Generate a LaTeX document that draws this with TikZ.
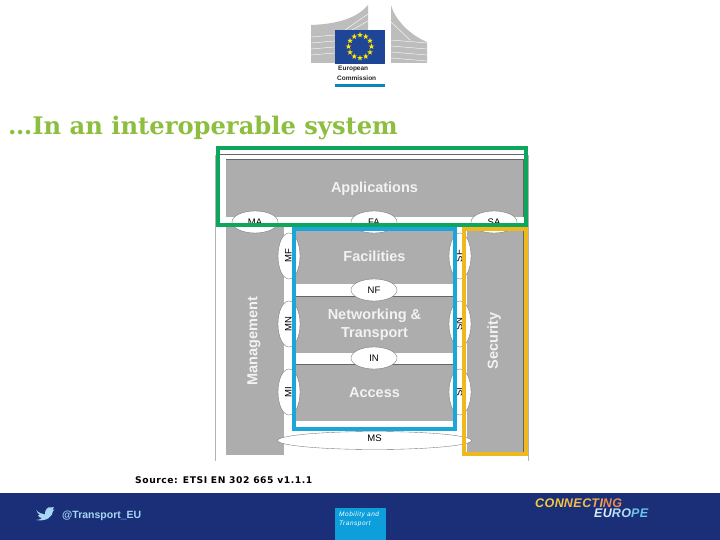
\documentclass[tikz,border=0pt]{standalone}
\usepackage{fontspec}
\setmainfont{Liberation Sans}
\newfontfamily\serifbold{DejaVu Serif}
\newfontfamily\versans{DejaVu Sans}
\usetikzlibrary{shapes.geometric}
\definecolor{bgray}{HTML}{ADADAD}
\definecolor{navy}{HTML}{1A2F78}
\definecolor{ecblue}{HTML}{0C9FDC}
\definecolor{fgreen}{HTML}{0EA65C}
\definecolor{fblue}{HTML}{1BA6DB}
\definecolor{fyellow}{HTML}{EDB91F}
\definecolor{titlegreen}{HTML}{8DBE3F}
\definecolor{flagblue}{HTML}{1F4596}
\definecolor{lightb}{HTML}{A6D8F4}
\definecolor{logogray}{HTML}{BDBDBD}
\tikzset{
  block/.style={fill=bgray,draw=none},
  blocklabel/.style={font=\bfseries\fontsize{14.5}{18}\selectfont,text=white!95!black,align=center,inner sep=0pt},
  iface/.style={ellipse,draw=black!55,line width=0.35pt,fill=white,inner sep=0pt,font=\fontsize{9.5}{10}\selectfont,text=black},
  ifaceh/.style={iface,minimum width=46pt,minimum height=22pt},
  ifacev/.style={iface,minimum width=22pt,minimum height=46pt},
  frame/.style={line width=4pt,line join=miter},
  hairline/.style={draw=black!30,line width=0.5pt},
  stripe/.style={draw=white,line width=0.4pt},
}
\newcommand{\ecstar}{(-90:3)--(-54:1.2)--(-18:3)--(18:1.2)--(54:3)--(90:1.2)--(126:3)--(162:1.2)--(198:3)--(234:1.2)--cycle}
\begin{document}
\begin{tikzpicture}[x=1pt,y=-1pt]
\useasboundingbox (0,0) rectangle (720,540);
\fill[white] (0,0) rectangle (720,540);

% logo buildings
\fill[logogray] (311,25) .. controls (340,24) and (358,17) .. (368,5) -- (368,30) -- (335,30) -- (335,63) -- (311,63) -- cycle;
\foreach \y in {36,42,48,54} \draw[stripe] (311,\y+1) -- (335,\y-1);
\draw[stripe] (345,30) -- (368,14);
\draw[stripe] (352,30) -- (368,21);
\fill[logogray] (391,5) .. controls (395,20) and (410,35) .. (427,42) -- (427,63) -- (391,63) -- cycle;
\foreach \y in {40,46,52,58} \draw[stripe] (391,\y) -- (427,\y+3);
\draw[stripe] (391,22) -- (410,40);
% logo flag
\fill[flagblue] (335,30) rectangle (385,64);
\foreach \a in {0,30,...,330} \fill[yellow!90!orange,shift={(\a:11.5)},shift={(360,46.5)}] \ecstar;
\node[anchor=west,inner sep=0pt,font=\bfseries\fontsize{6.5}{7}\selectfont,text=black!85] (eu1) at (338,69) {European};
\node[anchor=west,inner sep=0pt,font=\bfseries\fontsize{6.5}{7}\selectfont,text=black!85] (eu2) at (337,78) {Commission};
\fill[ecblue!85!black] (335,84) rectangle (385,87);

% title
\node[anchor=base west,inner sep=0pt,font=\serifbold\bfseries\fontsize{24.2}{26}\selectfont,text=titlegreen] (title) at (8,135) {…In an interoperable system};

% diagram frame
\draw[hairline] (215,155) -- (215,461);
\draw[hairline] (528,155) -- (528,461);
\draw[draw=black!60,line width=0.5pt] (218,154) -- (526,154);

% blocks
\fill[block] (226,159) rectangle (523,217);
\fill[block] (226,227) rectangle (284,455);
\fill[block] (295,230) rectangle (453,284);
\fill[block] (295,296) rectangle (453,353);
\fill[block] (295,364) rectangle (453,421);
\fill[block] (467,227) rectangle (523,453);
\draw[draw=black!60,line width=0.5pt] (226,159) -- (523,159);
\draw[draw=black!60,line width=0.5pt] (523,159) -- (523,217);
\draw[draw=black!60,line width=0.5pt] (523,227) -- (523,453);
\draw[draw=black!60,line width=0.5pt] (295,296) -- (453,296);
\draw[draw=black!60,line width=0.5pt] (295,364) -- (453,364);

\node[blocklabel] (apps) at (374.5,188.5) {Applications};
\node[blocklabel] (fac) at (374.5,256) {Facilities};
\node[blocklabel] (net) at (374.5,325) {Networking \&\\Transport};
\node[blocklabel] (acc) at (374.5,392.5) {Access};
\node[blocklabel,rotate=90] (mgmt) at (254,341) {Management};
\node[blocklabel,rotate=90] (sec) at (494,341) {Security};

% interfaces
\node[ifaceh] (MA) at (255,222) {MA};
\node[ifaceh] (FA) at (374,222) {FA};
\node[ifaceh] (SA) at (494,222) {SA};
\node[ifaceh] (NF) at (374,290) {NF};
\node[ifaceh] (IN) at (374,358) {IN};
\node[ifacev] (MF) at (289,256) {\rotatebox{90}{\raisebox{1.5pt}{MF}}};
\node[ifacev] (MN) at (289,324) {\rotatebox{90}{\raisebox{1.5pt}{MN}}};
\node[ifacev] (MI) at (289,392) {\rotatebox{90}{\raisebox{1.5pt}{MI}}};
\node[ifacev] (SF) at (460,256) {\rotatebox{90}{\raisebox{2pt}{SF}}};
\node[ifacev] (SN) at (460,324) {\rotatebox{90}{\raisebox{2pt}{SN}}};
\node[ifacev] (SI) at (460,392) {\rotatebox{90}{\raisebox{2pt}{SI}}};
\node[iface,minimum width=194pt,minimum height=18pt] (MS) at (374.5,440.5) {\raisebox{4pt}{MS}};

% highlight frames
\draw[frame,draw=fblue] (293.5,229) rectangle (455,429);
\draw[frame,draw=fyellow] (464,229) rectangle (526,454);
\draw[frame,draw=fgreen] (218,148) rectangle (526,225);

% source
\node[anchor=base west,inner sep=0pt,font=\versans\bfseries\fontsize{9.2}{10}\selectfont,text=black] (src) at (135,483) {\addfontfeature{LetterSpace=6}Source: ETSI EN 302 665 v1.1.1};

% footer
\fill[navy] (0,493) rectangle (720,540);
\fill[lightb] (36,510) .. controls (39,513) and (42,514) .. (45,514.5)
  .. controls (44.5,510) and (48,506) .. (51,507.5) -- (54,507) -- (52.5,509.5) -- (54.5,509.5) -- (53,511)
  .. controls (53,516) and (47,522) .. (36,520) .. controls (39,520) and (41,519) .. (42,518)
  .. controls (40,518) and (38.5,517) .. (38,515) -- (40,515) .. controls (38,514) and (37,512) .. (37,511) -- cycle;
\node[anchor=base west,inner sep=0pt,font=\bfseries\fontsize{10.5}{12}\selectfont,text=lightb] (tw) at (62,518.5) {@Transport\_EU};
\fill[ecblue] (335,508) rectangle (386,540);
\node[anchor=west,inner sep=0pt,font=\itshape\fontsize{6.5}{7}\selectfont,text=white] (mob1) at (339,515) {\addfontfeature{LetterSpace=8}Mobility and};
\node[anchor=west,inner sep=0pt,font=\itshape\fontsize{6.5}{7}\selectfont,text=white] (mob2) at (339,524) {\addfontfeature{LetterSpace=8}Transport};

% connecting europe
\node[anchor=base west,inner sep=0pt,font=\bfseries\itshape\fontsize{12.5}{13}\selectfont] (ce1) at (535,507) {\addfontfeature{LetterSpace=4}\textcolor[HTML]{F6C83C}{CON}\textcolor[HTML]{F4BC48}{NEC}\textcolor[HTML]{F2A650}{TI}\textcolor[HTML]{EC8A50}{NG}};
\node[anchor=base west,inner sep=0pt,font=\bfseries\itshape\fontsize{12.5}{13}\selectfont] (ce2) at (594,517.5) {\addfontfeature{LetterSpace=3}\textcolor[HTML]{D6ECF8}{EU}\textcolor[HTML]{B0DDF4}{RO}\textcolor[HTML]{6CC3EC}{PE}};
\end{tikzpicture}
\end{document}
